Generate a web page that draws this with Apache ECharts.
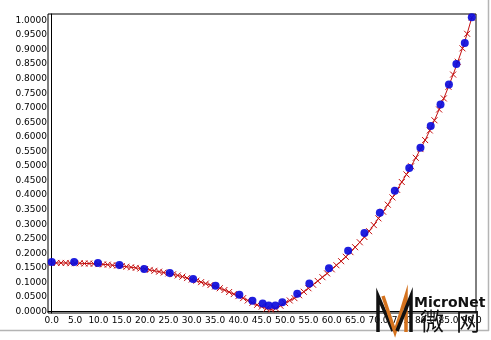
<!DOCTYPE html>
<html>
<head>
<meta charset="utf-8">
<script src="https://cdn.jsdelivr.net/npm/echarts@6/dist/echarts.min.js"></script>
<style>html,body{margin:0;padding:0;background:#fff;}#c{width:491px;height:340px;}</style>
</head>
<body>
<div id="c"></div>
<script>
// measured points (blue dots)
var dotX = [0, 4.8, 9.9, 14.5, 19.8, 25.3, 30.3, 35.1, 40.2, 43.0, 45.2, 46.5, 47.9, 49.4, 52.6, 55.2, 59.4, 63.5, 67.0, 70.3, 73.5, 76.6, 79.0, 81.2, 83.3, 85.1, 86.7, 88.5, 90.0];
var dotY = [0.1705, 0.1705, 0.167, 0.1595, 0.1465, 0.1328, 0.112, 0.089, 0.0576, 0.037, 0.0274, 0.0206, 0.0206, 0.0319, 0.061, 0.096, 0.1485, 0.2086, 0.270, 0.3396, 0.415, 0.493, 0.5626, 0.637, 0.711, 0.78, 0.85, 0.922, 1.011];
// fitted curve (red line with x markers)
var fitX = [0,1,2,3,4,5,6,7,8,9,10,11,12,13,14,15,16,17,18,19,20,21,22,23,24,25,26,27,28,29,30,31,32,33,34,35,36,37,38,39,40,41,42,43,44,45,46,47,48,49,50,51,52,53,54,55,56,57,58,59,60,61,62,63,64,65,66,67,68,69,70,71,72,73,74,75,76,77,78,79,80,81,82,83,84,85,86,87,88,89,90];
var fitY = [0.167,0.167,0.167,0.167,0.166,0.166,0.166,0.165,0.165,0.164,
            0.163,0.162,0.161,0.159,0.158,0.156,0.154,0.152,0.150,0.148,
            0.146,0.143,0.140,0.137,0.134,0.131,0.128,0.124,0.120,0.115,
            0.110,0.106,0.101,0.096,0.091,0.086,0.080,0.074,0.067,0.060,
            0.053,0.046,0.038,0.030,0.023,0.017,0.010,0.007,0.011,0.020,
            0.029,0.038,0.046,0.056,0.068,0.080,0.092,0.105,0.118,0.131,
            0.145,0.159,0.173,0.188,0.204,0.221,0.238,0.256,0.276,0.297,
            0.320,0.343,0.367,0.392,0.418,0.445,0.471,0.499,0.528,0.558,
            0.589,0.622,0.657,0.694,0.732,0.772,0.814,0.858,0.904,0.954,1.010];
// tick labels
var xTicks = [0,5,10,15,20,25,30,35,40,45,50,55,60,65,70,75,80,85,90];
var yTicks = [0,0.05,0.1,0.15,0.2,0.25,0.3,0.35,0.4,0.45,0.5,0.55,0.6,0.65,0.7,0.75,0.8,0.85,0.9,0.95,1.0];

var dots = dotX.map(function(x,i){return [x, dotY[i]];});
var fit = fitX.map(function(x,i){return [x, fitY[i]];});

var chart = echarts.init(document.getElementById('c'), null, {renderer:'canvas'});
var lab = {fontFamily:'DejaVu Sans', fontSize:9, color:'#000'};
chart.setOption({
  animation:false,
  backgroundColor:'#fff',
  grid:{left:48, right:15, top:14, bottom:27, show:true, borderColor:'#000', borderWidth:1, backgroundColor:'transparent'},
  xAxis:{type:'value', min:-0.8, max:90.9,
    axisLine:{show:true, lineStyle:{color:'#000', width:1}},
    axisTick:{show:false}, splitLine:{show:false},
    axisLabel:Object.assign({customValues:xTicks, margin:3, formatter:function(v){return v.toFixed(1);}}, lab)},
  yAxis:{type:'value', min:-0.005, max:1.022,
    axisLine:{show:true, lineStyle:{color:'#000', width:1}},
    axisTick:{show:false}, splitLine:{show:false},
    axisLabel:Object.assign({customValues:yTicks, margin:1, formatter:function(v){return v.toFixed(4);}}, lab)},
  series:[
    {type:'line', data:fit, symbol:'path://M0,0L10,10M10,0L0,10', symbolSize:6, showSymbol:true,
      lineStyle:{color:'#c41010', width:1}, itemStyle:{color:'transparent', borderColor:'#c41010', borderWidth:1}, z:2},
    {type:'scatter', data:dots, symbol:'circle', symbolSize:8, itemStyle:{color:'#0c0cdc', opacity:0.92}, z:3}
  ],
  graphic:[
    {type:'line', shape:{x1:488.5,y1:0,x2:488.5,y2:331}, style:{stroke:'#b4b4b4', lineWidth:1.5}, z:50},
    {type:'line', shape:{x1:0,y1:330.5,x2:489,y2:330.5}, style:{stroke:'#b4b4b4', lineWidth:1.5}, z:50},
    {type:'polyline', shape:{points:[[378,332],[378,296],[393,331]]}, style:{stroke:'#111', lineWidth:3.5, fill:null}, z:60},
    {type:'polyline', shape:{points:[[383,296],[395,332],[406,296],[406,332]]}, style:{stroke:'#d4721e', lineWidth:3.5, fill:null}, z:61},
    {type:'polyline', shape:{points:[[397,331],[411,296],[411,332]]}, style:{stroke:'#111', lineWidth:3.5, fill:null}, z:62},
    {type:'text', x:414, y:296, style:{text:'MicroNet', fontFamily:'DejaVu Sans', fontWeight:'bold', fontSize:14, fill:'#111'}, z:63},
    {type:'text', x:420, y:309, style:{text:'微', fontFamily:'Noto Sans CJK SC', fontSize:24, fill:'#111'}, z:63},
    {type:'text', x:456, y:309, style:{text:'网', fontFamily:'Noto Sans CJK SC', fontSize:24, fill:'#111'}, z:63}
  ]
});
</script>
</body>
</html>
